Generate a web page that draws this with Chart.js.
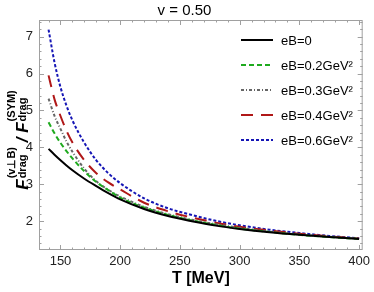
<!DOCTYPE html>
<html>
<head>
<meta charset="utf-8">
<script src="https://cdn.jsdelivr.net/npm/chart.js@4.4.0/dist/chart.umd.min.js"></script>
<style>
  html, body { margin: 0; padding: 0; background: #fff; }
  #wrap { width: 374px; height: 292px; }
</style>
</head>
<body>
<div id="wrap"><canvas id="c" width="374" height="292"></canvas></div>
<script>
const temps = [140, 145, 150, 155, 160, 170, 180, 190, 200, 220, 240, 260, 280, 300, 325, 350, 375, 400];
const eb00 = [3.96, 3.80, 3.65, 3.51, 3.38, 3.15, 2.95, 2.76, 2.59, 2.33, 2.14, 2.00, 1.88, 1.79, 1.70, 1.63, 1.57, 1.52];
const eb02 = [4.68, 4.38, 4.12, 3.90, 3.70, 3.35, 3.06, 2.84, 2.64, 2.37, 2.17, 2.02, 1.90, 1.80, 1.71, 1.63, 1.57, 1.52];
const eb03 = [5.32, 4.85, 4.50, 4.16, 3.88, 3.42, 3.08, 2.85, 2.67, 2.39, 2.19, 2.04, 1.92, 1.82, 1.72, 1.64, 1.58, 1.53];
const eb04 = [5.95, 5.30, 4.85, 4.45, 4.13, 3.65, 3.30, 3.05, 2.86, 2.50, 2.27, 2.10, 1.96, 1.85, 1.75, 1.66, 1.59, 1.53];
const eb06 = [7.19, 6.30, 5.63, 5.13, 4.73, 4.12, 3.65, 3.30, 3.03, 2.62, 2.35, 2.17, 2.01, 1.89, 1.77, 1.68, 1.60, 1.54];
const labels = ['eB=0', 'eB=0.2GeV²', 'eB=0.3GeV²', 'eB=0.4GeV²', 'eB=0.6GeV²'];
const xTicks = [150, 200, 250, 300, 350, 400];
const yTicks = [2, 3, 4, 5, 6, 7];

const FONT = '"Liberation Sans", Arial, sans-serif';

const styles = [
  { color: '#000000', dash: [] },
  { color: '#1faa1f', dash: [5, 3] },
  { color: '#666666', dash: [3, 2, 1, 2] },
  { color: '#b01818', dash: [12, 8] },
  { color: '#1515b5', dash: [3, 2] }
];

const series = [eb00, eb02, eb03, eb04, eb06];
const datasets = series.map((vals, i) => ({
  label: labels[i],
  data: vals.map((v, j) => ({ x: temps[j], y: v })),
  borderColor: styles[i].color,
  borderDash: styles[i].dash,
  borderWidth: 2,
  pointRadius: 0,
  fill: false,
  cubicInterpolationMode: 'monotone'
}));

// frame with inward ticks on all four sides
const framePlugin = {
  id: 'frame',
  afterDatasetsDraw(chart) {
    const { ctx, chartArea: a, scales } = chart;
    const xs = scales.x, ys = scales.y;
    ctx.save();
    ctx.strokeStyle = '#a0a0a0';
    ctx.lineWidth = 1;
    ctx.strokeRect(a.left + 0.5, a.top + 0.5, a.right - a.left - 1, a.bottom - a.top - 1);
    ctx.beginPath();
    for (let t = 140; t <= 400; t += 10) {
      const len = xTicks.includes(t) ? 5 : 2.5;
      const px = Math.round(xs.getPixelForValue(t)) + 0.5;
      ctx.moveTo(px, a.bottom); ctx.lineTo(px, a.bottom - len);
      ctx.moveTo(px, a.top); ctx.lineTo(px, a.top + len);
    }
    for (let k = 7; k <= 37; k++) {
      const v = k / 5;
      const len = (k % 5 === 0) ? 5 : 2.5;
      const py = Math.round(ys.getPixelForValue(v)) + 0.5;
      ctx.moveTo(a.left, py); ctx.lineTo(a.left + len, py);
      ctx.moveTo(a.right, py); ctx.lineTo(a.right - len, py);
    }
    ctx.stroke();
    ctx.restore();
  }
};

// legend inside plot, top right
const legendPlugin = {
  id: 'inlegend',
  afterDraw(chart) {
    const { ctx } = chart;
    ctx.save();
    labels.forEach((lab, i) => {
      const y = 40 + i * 25;
      ctx.strokeStyle = styles[i].color;
      ctx.lineWidth = 2;
      ctx.setLineDash(styles[i].dash);
      ctx.beginPath();
      ctx.moveTo(241, y); ctx.lineTo(273, y);
      ctx.stroke();
      ctx.setLineDash([]);
      ctx.fillStyle = '#000';
      ctx.font = '13px ' + FONT;
      ctx.textBaseline = 'middle';
      ctx.fillText(lab, 281, y + 1);
    });
    ctx.restore();
  }
};

// rotated y title with sub/superscripts
const yTitlePlugin = {
  id: 'ytitle',
  afterDraw(chart) {
    const { ctx } = chart;
    const big = 'italic bold 17px ' + FONT;
    const small = 'bold 11px ' + FONT;
    const parts = [
      { t: 'F', f: big },
      { sup: '(v⊥B)', sub: 'drag' },
      { t: ' / ', f: big },
      { t: 'F', f: big },
      { sup: '(SYM)', sub: 'drag' }
    ];
    ctx.save();
    let total = 0;
    parts.forEach(p => {
      if (p.t) { ctx.font = p.f; p.w = ctx.measureText(p.t).width; }
      else { ctx.font = small; p.w = Math.max(ctx.measureText(p.sup).width, ctx.measureText(p.sub).width) + 1; }
      total += p.w;
    });
    ctx.translate(28, 140);
    ctx.rotate(-Math.PI / 2);
    ctx.fillStyle = '#000';
    ctx.textBaseline = 'alphabetic';
    let x = -total / 2;
    parts.forEach(p => {
      if (p.t) { ctx.font = p.f; ctx.fillText(p.t, x, 0); }
      else {
        ctx.font = small;
        ctx.fillText(p.sup, x + 1, -13);
        ctx.fillText(p.sub, x + 1, -2);
      }
      x += p.w;
    });
    ctx.restore();
  }
};

new Chart(document.getElementById('c'), {
  type: 'line',
  data: { datasets },
  options: {
    responsive: false,
    animation: false,
    layout: { padding: { left: 0, right: 5, top: 0, bottom: 0 } },
    plugins: {
      legend: { display: false },
      tooltip: { enabled: false },
      title: {
        display: true,
        text: 'v = 0.50',
        color: '#000',
        font: { family: FONT, size: 15, weight: 'normal' },
        padding: { top: 2, bottom: 0 }
      }
    },
    scales: {
      x: {
        type: 'linear',
        min: 132,
        max: 403,
        grid: { display: false, drawTicks: false },
        border: { display: false },
        afterBuildTicks: s => { s.ticks = xTicks.map(v => ({ value: v })); },
        afterFit: s => { s.height = 42; },
        ticks: { color: '#222', font: { family: FONT, size: 13 }, padding: 4, maxRotation: 0 },
        title: {
          display: true,
          text: 'T [MeV]',
          color: '#000',
          font: { family: FONT, size: 16, weight: 'bold' },
          padding: { top: 0, bottom: 4 }
        }
      },
      y: {
        type: 'linear',
        min: 1.22,
        max: 7.45,
        grid: { display: false, drawTicks: false },
        border: { display: false },
        afterBuildTicks: s => { s.ticks = yTicks.map(v => ({ value: v })); },
        afterFit: s => { s.width = 39; },
        ticks: { color: '#222', font: { family: FONT, size: 13 }, padding: 6 }
      }
    }
  },
  plugins: [framePlugin, legendPlugin, yTitlePlugin]
});
</script>
</body>
</html>
